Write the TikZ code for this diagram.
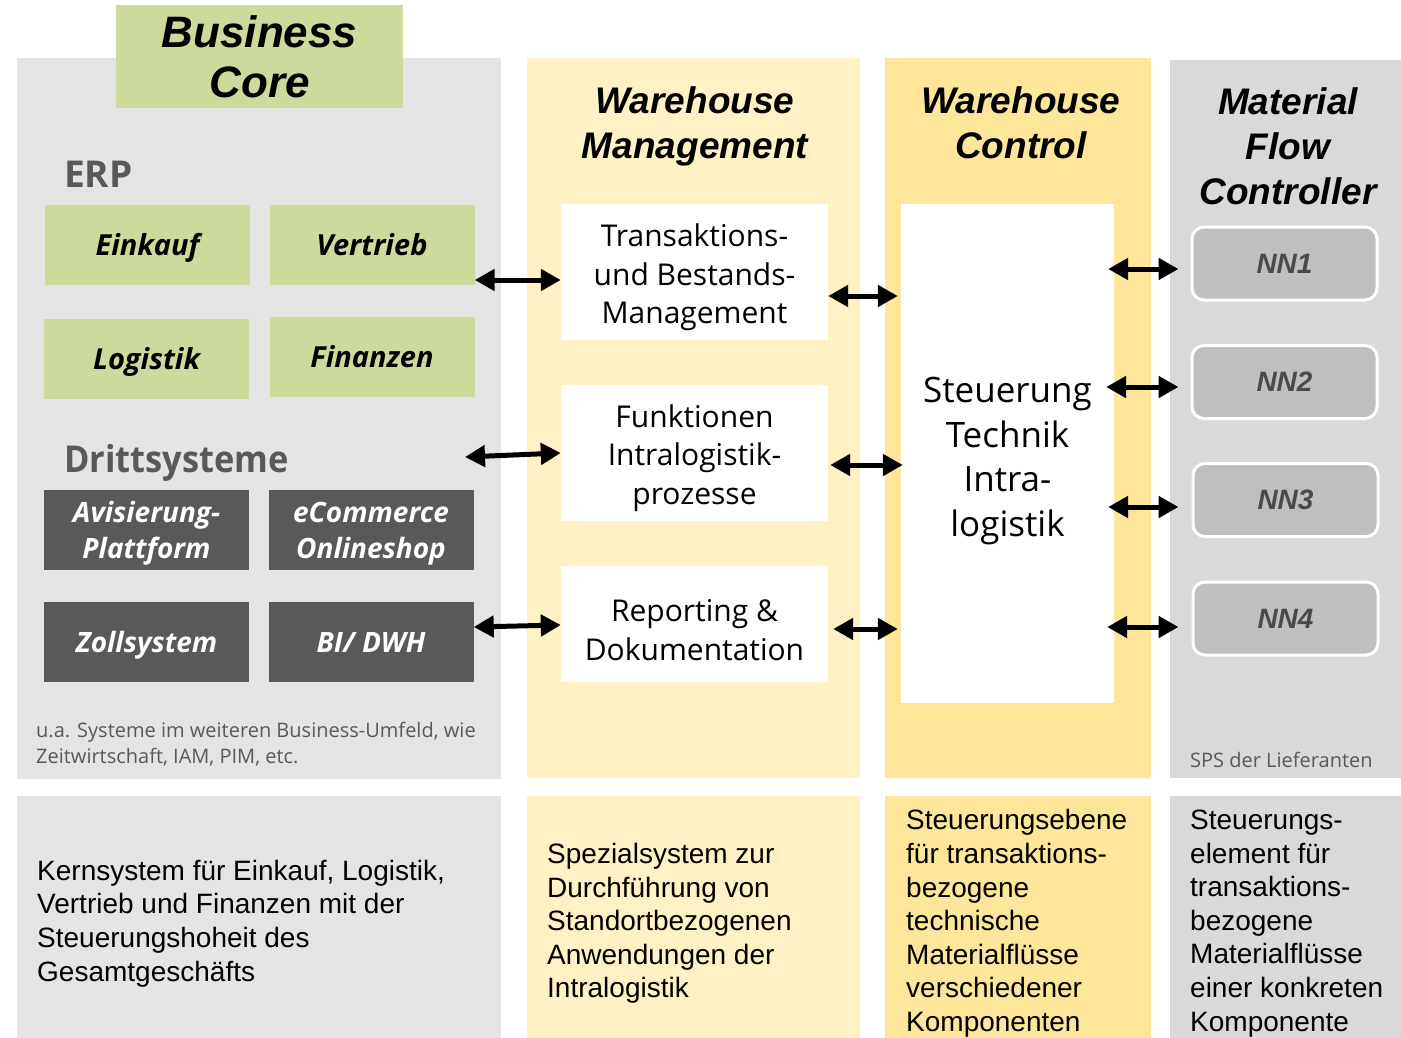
\documentclass[tikz,border=0pt]{standalone}
\usepackage{fontspec}
\setmainfont{Liberation Sans}
\newfontfamily\seg{Open Sans}
\usetikzlibrary{arrows.meta}
\definecolor{cgreen}{HTML}{CCDA9C}
\definecolor{cdark}{HTML}{595959}
\definecolor{cgrayA}{HTML}{E4E4E4}
\definecolor{cgrayB}{HTML}{D9D9D9}
\definecolor{cyelA}{HTML}{FFF1C4}
\definecolor{cyelB}{HTML}{FDE699}
\definecolor{cnn}{HTML}{BFBFBF}
\definecolor{ctxt}{HTML}{595959}
\definecolor{cnntxt}{HTML}{4A4A4A}
\begin{document}
\begin{tikzpicture}[x=1pt,y=-1pt,
  erpbox/.style={fill=cgreen, minimum width=205, minimum height=80, inner sep=0,
    text height=21pt, text depth=0pt,
    font=\seg\bfseries\itshape\fontsize{29}{36}\selectfont},
  drittbox/.style={fill=cdark, text=white, minimum width=205, minimum height=80, inner sep=0,
    align=center, text height=20pt, text depth=0pt, font=\seg\bfseries\itshape\fontsize{28}{36.5}\selectfont},
  twoline/.style={text height=57pt, text depth=0pt},
  whitebox/.style={fill=white, inner sep=0},
  wmtext/.style={align=center, inner sep=0, font=\seg\fontsize{30}{38.3}\selectfont},
  title/.style={align=center, inner sep=0, font=\bfseries\itshape\fontsize{37}{45}\selectfont},
  section/.style={anchor=base west, inner sep=0, text=ctxt, font=\seg\bfseries\fontsize{37}{40}\selectfont},
  note/.style={inner sep=0, text=ctxt, align=left, font=\seg\fontsize{20}{26}\selectfont},
  nnbox/.style={fill=cnn, draw=white, line width=3pt, rounded corners=12pt, minimum width=185,
    minimum height=73, inner sep=0, text=cnntxt, font=\bfseries\itshape\fontsize{28}{30}\selectfont},
  desc/.style={anchor=west, align=left, inner sep=0, font=\fontsize{28}{33.6}\selectfont},
  dbl/.style={{Triangle[length=20pt,width=21pt]}-{Triangle[length=20pt,width=21pt]}, line width=5pt}
]
\useasboundingbox (0,0) rectangle (1401,1038);
% column backgrounds
\fill[cgrayA] (17,58) rectangle (501,779);
\fill[cgrayA] (17,796) rectangle (501,1038);
\fill[cyelA] (527,58) rectangle (860,778);
\fill[cyelA] (527,796) rectangle (860,1038);
\fill[cyelB] (885,58) rectangle (1151,778);
\fill[cyelB] (885,796) rectangle (1151,1038);
\fill[cgrayB] (1170,60) rectangle (1401,778);
\fill[cgrayB] (1170,796) rectangle (1401,1038);

% Business core column
\node[fill=cgreen, minimum width=287, minimum height=103, inner sep=0, align=center,
  font=\bfseries\itshape\fontsize{44}{50}\selectfont] (bcore) at (259.5,56.5) {Business\\Core};
\node[section] (erp) at (64,188) {ERP};
\node[erpbox] (einkauf) at (147.5,245) {Einkauf};
\node[erpbox] (vertrieb) at (372,245) {Vertrieb};
\node[erpbox] (logistik) at (146.5,359) {Logistik};
\node[erpbox] (finanzen) at (372,357) {Finanzen};
\node[section] (dritt) at (64,472) {\addfontfeature{FakeStretch=0.93}Drittsysteme};
\node[drittbox, twoline] (aviso) at (146.5,530) {Avisierung-\\Plattform};
\node[drittbox, twoline] (ecom) at (371,530) {eCommerce\\Onlineshop};
\node[drittbox] (zoll) at (146.5,642) {Zollsystem};
\node[drittbox] (bidwh) at (371,642) {BI/ DWH};
\node[note, anchor=west] (fn) at (36,744) {u.a. Systeme im weiteren Business-Umfeld, wie\\Zeitwirtschaft, IAM, PIM, etc.};

% Warehouse management column
\node[title] (wmt) at (695,126) {Warehouse\\Management};
\node[whitebox, minimum width=267, minimum height=136] (tbm) at (694.5,272) {};
\node[wmtext] (tbmt) at (694.5,277.5) {Transaktions-\\und Bestands-\\Management};
\node[whitebox, minimum width=267, minimum height=136] (fip) at (694.5,453) {};
\node[wmtext] (fipt) at (694.5,458) {Funktionen\\Intralogistik-\\prozesse};
\node[whitebox, minimum width=267, minimum height=116] (rep) at (694.5,624) {};
\node[wmtext] (rept) at (694.5,630) {Reporting \&\\Dokumentation};

% Warehouse control column
\node[title] (wct) at (1021,122.5) {Warehouse\\Control};
\node[whitebox, minimum width=213, minimum height=499] (wc) at (1007.5,453.5) {};
\node[align=center, inner sep=0, font=\seg\fontsize{35}{44.5}\selectfont] (wctext) at (1007.5,461)
  {Steuerung\\Technik\\Intra-\\logistik};

% Material flow controller column
\node[title] (mfct) at (1288,146.7) {Material\\Flow\\Controller};
\node[nnbox] (nn1) at (1284.5,263.5) {NN1};
\node[nnbox] (nn2) at (1284.5,382) {NN2};
\node[nnbox] (nn3) at (1285.5,500) {NN3};
\node[nnbox] (nn4) at (1285.5,618.5) {NN4};
\node[note, anchor=base west] (sps) at (1190,767) {SPS der Lieferanten};

% connectors
\coordinate (dritta) at (465,457);
\draw[dbl] (vertrieb.east |- 0,280) -- (tbm.west |- 0,280);
\draw[dbl] (dritta) -- (fip.west |- 0,453);
\draw[dbl] (bidwh.east |- 0,627) -- (rep.west |- 0,625);
\draw[dbl, shorten >=3pt] (tbm.east |- 0,296) -- (wc.west |- 0,296);
\draw[dbl, shorten <=2pt, shorten >=-2pt] (fip.east |- 0,465) -- (wc.west |- 0,465);
\draw[dbl, shorten <=5pt, shorten >=3pt] (rep.east |- 0,629) -- (wc.west |- 0,629);
\draw[dbl, shorten <=-6pt, shorten >=12pt] (wc.east |- 0,269) -- (nn1.west |- 0,269);
\draw[dbl, shorten <=-8pt, shorten >=12pt] (wc.east |- 0,387) -- (nn2.west |- 0,387);
\draw[dbl, shorten <=-6pt, shorten >=13pt] (wc.east |- 0,507) -- (nn3.west |- 0,507);
\draw[dbl, shorten <=-7pt, shorten >=13pt] (wc.east |- 0,627) -- (nn4.west |- 0,627);

% descriptions
\node[desc] (d1) at (37,923.5) {Kernsystem für Einkauf, Logistik,\\Vertrieb und Finanzen mit der\\Steuerungshoheit des\\Gesamtgeschäfts};
\node[desc] (d2) at (547,923.5) {Spezialsystem zur\\Durchführung von\\Standortbezogenen\\Anwendungen der\\Intralogistik};
\node[desc] (d3) at (906,923.5) {Steuerungsebene\\für transaktions-\\bezogene\\technische\\Materialflüsse\\verschiedener\\Komponenten};
\node[desc] (d4) at (1190,923.5) {Steuerungs-\\element für\\transaktions-\\bezogene\\Materialflüsse\\einer konkreten\\Komponente};
\end{tikzpicture}
\end{document}
